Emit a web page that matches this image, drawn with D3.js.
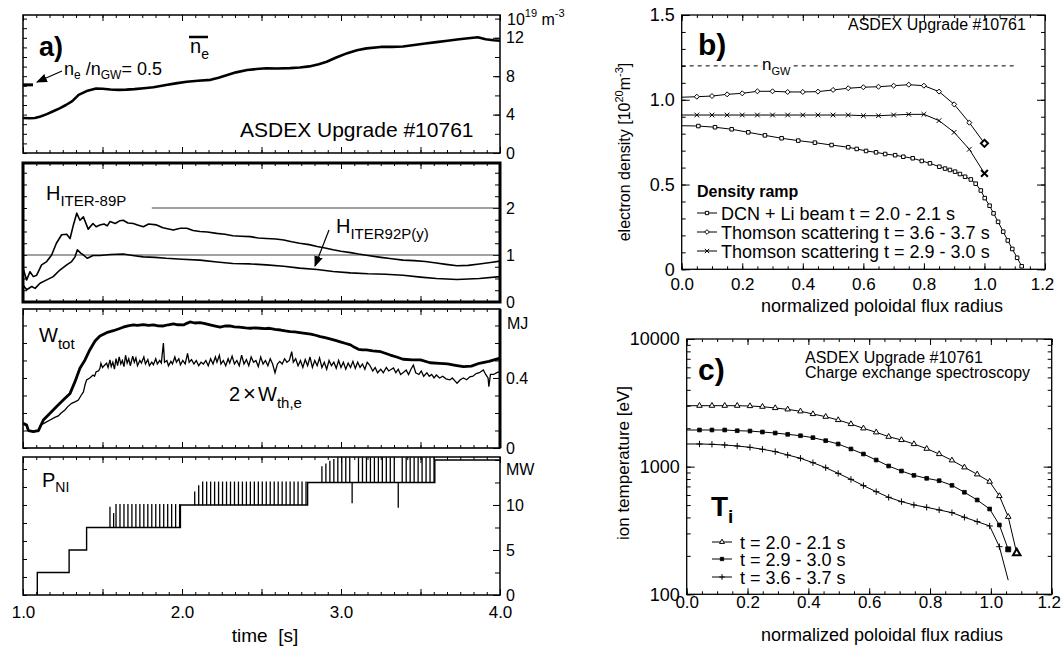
<!DOCTYPE html>
<html>
<head>
<meta charset="utf-8">
<title>ASDEX Upgrade #10761</title>
<script src="https://cdn.jsdelivr.net/npm/d3@7/dist/d3.min.js"></script>
<style>
  html, body { margin: 0; padding: 0; background: #fff; }
  svg { display: block; }
</style>
</head>
<body>
<svg id="fig" width="1061" height="652"></svg>
<script>
// ===================== a) time traces =====================
// line-averaged density [10^19 m^-3]
const neLine = [[1.00,3.65],[1.04,3.62],[1.075,3.65],[1.11,3.8],[1.15,4.05],[1.19,4.35],[1.23,4.65],[1.27,5.0],[1.31,5.4],[1.35,6.05],[1.40,6.45],[1.46,6.72],[1.50,6.7],[1.55,6.62],[1.60,6.58],[1.65,6.6],[1.70,6.65],[1.76,6.74],[1.82,6.85],[1.90,7.08],[1.96,7.25],[2.03,7.43],[2.10,7.52],[2.18,7.62],[2.23,7.85],[2.28,8.1],[2.34,8.4],[2.41,8.65],[2.47,8.75],[2.53,8.82],[2.60,8.8],[2.68,8.84],[2.74,8.9],[2.80,9.02],[2.86,9.25],[2.91,9.5],[2.97,9.95],[3.04,10.4],[3.10,10.7],[3.16,10.9],[3.25,11.05],[3.32,11.05],[3.39,11.1],[3.46,11.25],[3.53,11.4],[3.60,11.55],[3.67,11.7],[3.73,11.82],[3.80,11.95],[3.86,12.05],[3.91,11.85],[3.96,11.75],[4.00,11.7]];
const neRatioMark = 7.1;   // n_e / n_GW = 0.5

// confinement enhancement factors
const hIter89p = [[1.0,0.72],[1.023,0.47],[1.044,0.645],[1.065,0.54],[1.086,0.57],[1.117,0.79],[1.149,0.86],[1.18,1.0],[1.21,1.25],[1.243,1.43],[1.275,1.44],[1.296,1.35],[1.317,1.64],[1.338,1.89],[1.358,1.74],[1.38,1.81],[1.41,1.55],[1.44,1.67],[1.46,1.6],[1.484,1.64],[1.51,1.66],[1.53,1.62],[1.547,1.71],[1.58,1.67],[1.61,1.73],[1.63,1.74],[1.66,1.68],[1.694,1.67],[1.72,1.64],[1.757,1.60],[1.79,1.66],[1.84,1.64],[1.88,1.58],[1.945,1.53],[1.99,1.57],[2.03,1.57],[2.07,1.52],[2.113,1.50],[2.16,1.49],[2.218,1.46],[2.27,1.44],[2.32,1.41],[2.37,1.40],[2.43,1.39],[2.48,1.36],[2.53,1.35],[2.59,1.34],[2.64,1.32],[2.69,1.28],[2.74,1.25],[2.80,1.22],[2.85,1.18],[2.90,1.15],[2.95,1.11],[3.00,1.08],[3.06,1.05],[3.11,1.02],[3.17,0.99],[3.25,0.95],[3.32,0.92],[3.39,0.89],[3.46,0.88],[3.53,0.86],[3.60,0.83],[3.66,0.80],[3.73,0.77],[3.80,0.78],[3.87,0.81],[3.94,0.84],[4.0,0.87]];
const hIter92p = [[1.0,0.36],[1.023,0.26],[1.055,0.33],[1.076,0.29],[1.107,0.40],[1.149,0.47],[1.19,0.54],[1.232,0.68],[1.275,0.79],[1.306,0.86],[1.327,0.96],[1.342,1.11],[1.363,1.04],[1.38,1.0],[1.405,0.93],[1.44,0.99],[1.484,0.99],[1.55,1.01],[1.63,1.02],[1.69,0.99],[1.757,0.96],[1.83,0.95],[1.90,0.93],[2.00,0.91],[2.113,0.89],[2.22,0.85],[2.32,0.82],[2.43,0.81],[2.53,0.79],[2.64,0.76],[2.74,0.72],[2.85,0.69],[2.95,0.65],[3.06,0.62],[3.17,0.60],[3.28,0.59],[3.39,0.57],[3.50,0.53],[3.60,0.50],[3.73,0.48],[3.87,0.50],[4.0,0.54]];
const hRefLines = [[1.0, 1], [1.81, 2]];  // [start time, level]

// stored energy [MJ]
const wTot = [[1.00,0.141],[1.023,0.131],[1.034,0.099],[1.065,0.093],[1.097,0.099],[1.128,0.16],[1.17,0.198],[1.21,0.236],[1.253,0.274],[1.296,0.312],[1.327,0.379],[1.358,0.455],[1.39,0.503],[1.42,0.56],[1.453,0.611],[1.484,0.64],[1.526,0.659],[1.568,0.67],[1.60,0.68],[1.63,0.69],[1.66,0.698],[1.694,0.703],[1.72,0.70],[1.757,0.705],[1.79,0.70],[1.82,0.703],[1.85,0.698],[1.883,0.697],[1.915,0.704],[1.945,0.709],[1.975,0.704],[2.01,0.703],[2.03,0.712],[2.05,0.72],[2.08,0.714],[2.113,0.716],[2.145,0.71],[2.176,0.703],[2.21,0.696],[2.24,0.69],[2.27,0.697],[2.30,0.697],[2.33,0.692],[2.36,0.69],[2.40,0.686],[2.43,0.684],[2.46,0.686],[2.49,0.684],[2.52,0.682],[2.55,0.684],[2.585,0.678],[2.62,0.674],[2.65,0.669],[2.68,0.665],[2.71,0.663],[2.74,0.659],[2.775,0.655],[2.81,0.651],[2.84,0.644],[2.87,0.636],[2.90,0.63],[2.93,0.623],[2.965,0.615],[2.996,0.606],[3.03,0.597],[3.06,0.589],[3.085,0.575],[3.11,0.564],[3.135,0.56],[3.16,0.56],[3.20,0.555],[3.25,0.55],[3.31,0.531],[3.35,0.52],[3.39,0.507],[3.45,0.503],[3.50,0.503],[3.56,0.487],[3.62,0.483],[3.67,0.48],[3.72,0.472],[3.77,0.465],[3.82,0.468],[3.87,0.484],[3.93,0.495],[4.00,0.513]];
const wTh2 = [[1.00,0.135],[1.02,0.13],[1.035,0.10],[1.06,0.095],[1.08,0.10],[1.095,0.095],[1.11,0.13],[1.14,0.145],[1.17,0.16],[1.20,0.175],[1.222,0.183],[1.24,0.20],[1.264,0.217],[1.28,0.235],[1.306,0.255],[1.33,0.265],[1.348,0.274],[1.365,0.30],[1.38,0.32],[1.39,0.36],[1.40,0.389],[1.42,0.40],[1.44,0.417],[1.45,0.41],[1.46,0.436],[1.475,0.44],[1.484,0.455],[1.49,0.484],[1.50,0.46],[1.51,0.47],[1.526,0.484],[1.535,0.46],[1.547,0.503],[1.555,0.465],[1.565,0.49],[1.575,0.45],[1.585,0.51],[1.595,0.47],[1.605,0.52],[1.615,0.48],[1.625,0.50],[1.635,0.465],[1.645,0.53],[1.655,0.485],[1.665,0.51],[1.675,0.47],[1.69,0.525],[1.70,0.49],[1.71,0.515],[1.72,0.47],[1.735,0.50],[1.745,0.485],[1.76,0.52],[1.77,0.48],[1.785,0.505],[1.795,0.47],[1.81,0.49],[1.82,0.475],[1.835,0.51],[1.845,0.48],[1.86,0.50],[1.87,0.485],[1.883,0.60],[1.89,0.49],[1.905,0.50],[1.915,0.47],[1.93,0.495],[1.94,0.48],[1.955,0.52],[1.965,0.49],[1.98,0.51],[1.99,0.475],[2.005,0.50],[2.02,0.48],[2.035,0.54],[2.045,0.49],[2.06,0.505],[2.075,0.48],[2.09,0.50],[2.105,0.47],[2.12,0.49],[2.135,0.48],[2.15,0.50],[2.165,0.47],[2.18,0.51],[2.195,0.48],[2.21,0.52],[2.22,0.49],[2.235,0.53],[2.245,0.48],[2.26,0.50],[2.275,0.47],[2.29,0.51],[2.30,0.485],[2.315,0.525],[2.33,0.48],[2.345,0.50],[2.36,0.47],[2.375,0.53],[2.39,0.48],[2.405,0.505],[2.42,0.47],[2.435,0.52],[2.45,0.49],[2.465,0.50],[2.48,0.465],[2.495,0.52],[2.51,0.48],[2.525,0.50],[2.54,0.47],[2.555,0.51],[2.57,0.48],[2.585,0.43],[2.60,0.48],[2.615,0.495],[2.63,0.48],[2.645,0.51],[2.66,0.49],[2.675,0.50],[2.69,0.55],[2.70,0.49],[2.715,0.51],[2.73,0.47],[2.745,0.50],[2.76,0.46],[2.775,0.505],[2.79,0.47],[2.805,0.52],[2.82,0.46],[2.835,0.50],[2.85,0.47],[2.865,0.515],[2.88,0.46],[2.895,0.49],[2.91,0.45],[2.925,0.50],[2.94,0.47],[2.955,0.49],[2.97,0.455],[2.985,0.50],[3.00,0.46],[3.015,0.49],[3.03,0.45],[3.045,0.485],[3.06,0.46],[3.075,0.495],[3.09,0.455],[3.105,0.49],[3.12,0.46],[3.135,0.48],[3.15,0.45],[3.165,0.49],[3.18,0.474],[3.20,0.44],[3.215,0.46],[3.23,0.43],[3.25,0.45],[3.266,0.43],[3.285,0.46],[3.30,0.44],[3.33,0.457],[3.345,0.43],[3.36,0.45],[3.375,0.42],[3.39,0.43],[3.41,0.445],[3.425,0.42],[3.44,0.45],[3.455,0.474],[3.47,0.43],[3.49,0.42],[3.505,0.44],[3.52,0.41],[3.54,0.43],[3.555,0.41],[3.57,0.42],[3.585,0.40],[3.60,0.417],[3.62,0.40],[3.64,0.41],[3.66,0.395],[3.685,0.389],[3.70,0.40],[3.715,0.385],[3.73,0.37],[3.75,0.39],[3.77,0.40],[3.79,0.39],[3.81,0.407],[3.83,0.41],[3.85,0.425],[3.87,0.43],[3.895,0.446],[3.91,0.42],[3.925,0.40],[3.93,0.35],[3.94,0.42],[3.96,0.42],[3.98,0.43],[4.0,0.436]];

// neutral beam power [MW]: step levels plus modulation pulses
const pniSteps = [[1.09,0],[1.09,2.5],[1.29,2.5],[1.29,5.0],[1.40,5.0],[1.40,7.5],[1.99,7.5],[1.99,10.0],[2.79,10.0],[2.79,12.5],[3.59,12.5],[3.59,15.0],[4.0,15.0]];
const pniPulsesA = [[1.547,9.8],[1.57,9.1],[1.585,10.1],[1.61,10.1],[1.635,10.1],[1.66,10.1],[1.685,10.1],[1.71,10.1],[1.735,10.1],[1.76,10.1],[1.785,10.1],[1.81,10.1],[1.835,10.1],[1.86,10.1],[1.885,10.1],[1.91,10.1],[1.935,10.1],[1.96,10.1],[1.985,10.1]];
const pniPulsesB = [[2.08,11.5],[2.105,12.2],[2.13,12.6],[2.155,12.6],[2.18,12.6],[2.205,12.6],[2.23,12.6],[2.255,12.6],[2.28,12.6],[2.305,12.6],[2.33,12.6],[2.355,12.6],[2.38,12.6],[2.405,12.6],[2.43,12.6],[2.455,12.6],[2.48,12.6],[2.505,12.6],[2.53,12.6],[2.555,12.6],[2.58,12.6],[2.605,12.6],[2.63,12.6],[2.655,12.6],[2.68,12.6],[2.705,12.6],[2.73,12.6],[2.755,12.6],[2.78,12.6]];
const pniPulsesC = [[2.88,14.3],[2.905,14.6],[2.93,14.9],[2.955,15.1],[2.98,15.3],[3.005,15.3],[3.03,15.3],[3.055,15.3],[3.11,15.3],[3.135,15.3],[3.16,15.3],[3.185,15.3],[3.21,15.3],[3.235,15.3],[3.26,15.3],[3.285,15.3],[3.31,15.3],[3.335,15.3],[3.385,15.3],[3.41,15.3],[3.435,15.3],[3.46,15.3],[3.485,15.3],[3.51,15.3],[3.535,15.3],[3.56,15.3],[3.585,15.3]];
const pniDips = [[3.07,10.2],[3.36,9.7]];

// ===================== b) electron density profiles =====================
const dcnLiBeam = [[0,0.847],[0.055,0.845],[0.11,0.838],[0.165,0.826],[0.22,0.808],[0.275,0.79],[0.33,0.773],[0.385,0.759],[0.44,0.747],[0.495,0.733],[0.55,0.72],[0.578,0.71],[0.609,0.698],[0.642,0.69],[0.672,0.68],[0.705,0.673],[0.732,0.664],[0.763,0.655],[0.793,0.639],[0.82,0.625],[0.851,0.605],[0.87,0.594],[0.886,0.586],[0.903,0.576],[0.919,0.562],[0.936,0.546],[0.955,0.53],[0.971,0.505],[0.988,0.465],[1.001,0.42],[1.017,0.375],[1.03,0.33],[1.045,0.28],[1.062,0.222],[1.077,0.17],[1.092,0.12],[1.108,0.068],[1.123,0.018]];
const thomson36 = [[0,1.015],[0.05,1.018],[0.10,1.022],[0.15,1.032],[0.20,1.038],[0.25,1.05],[0.30,1.05],[0.35,1.046],[0.40,1.046],[0.45,1.048],[0.50,1.058],[0.55,1.068],[0.60,1.074],[0.65,1.077],[0.70,1.083],[0.75,1.089],[0.80,1.083],[0.85,1.048],[0.90,0.973],[0.95,0.865],[1.00,0.743]];
const thomson29 = [[0,0.91],[0.05,0.91],[0.10,0.91],[0.15,0.91],[0.20,0.91],[0.25,0.91],[0.30,0.91],[0.35,0.91],[0.40,0.91],[0.45,0.91],[0.50,0.91],[0.55,0.91],[0.60,0.906],[0.65,0.906],[0.70,0.91],[0.75,0.914],[0.80,0.914],[0.85,0.877],[0.90,0.808],[0.95,0.708],[1.00,0.566]];
const nGreenwald = 1.2;
const densityLegend = ["DCN + Li beam t = 2.0 - 2.1 s", "Thomson scattering t = 3.6 - 3.7 s", "Thomson scattering t = 2.9 - 3.0 s"];

// ===================== c) ion temperature profiles =====================
const rhoCx = [0,0.042,0.083,0.125,0.166,0.208,0.249,0.291,0.332,0.374,0.415,0.457,0.498,0.540,0.581,0.623,0.664,0.706,0.747,0.789,0.830,0.872,0.913,0.955,0.996,1.028,1.057,1.085];
const ti20 = [3003,3003,3003,3003,3003,2985,2950,2880,2812,2714,2585,2462,2320,2158,1996,1858,1717,1618,1504,1383,1256,1121,988,871,763,589,405,210];
const ti29 = [1937,1937,1937,1937,1912,1901,1868,1834,1791,1747,1687,1598,1505,1375,1256,1127,1012,924,855,810,776,714,630,548,466,349,225];
const ti36 = [1505,1505,1496,1478,1451,1417,1368,1311,1234,1163,1074,981,886,795,710,637,575,532,501,480,458,436,401,371,343,236,129];
const tiLegend = ["t = 2.0 - 2.1 s", "t = 2.9 - 3.0 s", "t = 3.6 - 3.7 s"];

// ===================================================================
const FONT = "'Liberation Sans', Arial, Helvetica, sans-serif";
const svg = d3.select("#fig").attr("font-family", FONT);
const defs = svg.append("defs");
defs.append("marker").attr("id", "arrow").attr("viewBox", "0 0 10 10")
  .attr("refX", 9).attr("refY", 5).attr("markerWidth", 11).attr("markerHeight", 11)
  .attr("markerUnits", "userSpaceOnUse").attr("orient", "auto")
  .append("path").attr("d", "M0,1 L10,5 L0,9 Z").attr("fill", "#000");

function styleAxis(g, size) {
  g.select(".domain").remove();
  g.attr("font-family", null).attr("font-size", null);
  g.selectAll(".tick line").attr("stroke", "#000").attr("stroke-width", 1);
  g.selectAll(".tick text").attr("fill", "#000").attr("font-size", size || 16);
}

function richText(parent, x, y, parts, attrs) {
  const t = parent.append("text").attr("x", x).attr("y", y).attr("fill", "#000");
  if (attrs) for (const k in attrs) t.attr(k, attrs[k]);
  let shift = 0;
  for (const p of parts) {
    const s = t.append("tspan").text(p.t);
    if (p.size) s.attr("font-size", p.size);
    if (p.weight) s.attr("font-weight", p.weight);
    if (p.x !== undefined) s.attr("x", p.x);
    const want = p.dy || 0;
    s.attr("dy", want - shift);
    shift = want;
  }
  return t;
}

// ---------- a) stacked time panels ----------
const xT = d3.scaleLinear().domain([1.0, 4.0]).range([23, 500]);
const tMinor = d3.range(0, 37).map(i => 1 + i / 12);
const tMajor = d3.range(0, 7).map(i => 1 + i * 0.5);

function timePanel(o) {
  const y = d3.scaleLinear().domain([0, o.max]).range([o.bottom, o.top]);
  const g = svg.append("g");
  const clipId = "clip-" + o.name;
  defs.append("clipPath").attr("id", clipId).append("rect")
    .attr("x", xT(1)).attr("y", o.top).attr("width", xT(4) - xT(1)).attr("height", o.bottom - o.top);
  for (const [axis, yy] of [[d3.axisTop, o.top], [d3.axisBottom, o.bottom]]) {
    g.append("g").attr("transform", `translate(0,${yy})`)
      .call(axis(xT).tickValues(tMinor).tickSize(-3).tickFormat("")).call(styleAxis);
    g.append("g").attr("transform", `translate(0,${yy})`)
      .call(axis(xT).tickValues(tMajor).tickSize(-6).tickFormat("")).call(styleAxis);
  }
  g.append("g").attr("transform", `translate(${xT(1)},0)`)
    .call(d3.axisLeft(y).tickValues(o.leftTicks).tickSize(-4).tickFormat("")).call(styleAxis);
  g.append("g").attr("transform", `translate(${xT(4)},0)`)
    .call(d3.axisRight(y).tickValues(o.rightTicks).tickSize(-5).tickFormat("")).call(styleAxis);
  g.append("g").attr("transform", `translate(${xT(4)},0)`)
    .call(d3.axisRight(y).tickValues(o.labels).tickSize(-7).tickPadding(6).tickFormat(d3.format(""))).call(styleAxis);
  const plot = g.append("g").attr("clip-path", `url(#${clipId})`);
  g.append("rect").attr("x", xT(1)).attr("y", o.top).attr("width", xT(4) - xT(1)).attr("height", o.bottom - o.top)
    .attr("fill", "none").attr("stroke", "#000").attr("stroke-width", o.border);
  return { y, g, plot };
}

const stepRange = (a, b, s) => d3.range(Math.round((b - a) / s) + 1).map(i => a + i * s);

// density
const pNe = timePanel({ name: "ne", top: 15, bottom: 153, max: 14.375, border: 1.5,
  leftTicks: stepRange(0, 14, 1), rightTicks: stepRange(0, 14, 2), labels: [0, 4, 8, 12] });
pNe.plot.append("path").datum(neLine)
  .attr("d", d3.line().x(d => xT(d[0])).y(d => pNe.y(d[1])))
  .attr("fill", "none").attr("stroke", "#000").attr("stroke-width", 2.6).attr("stroke-linejoin", "round");
pNe.g.append("line").attr("x1", xT(1)).attr("x2", xT(1) + 10)
  .attr("y1", pNe.y(neRatioMark)).attr("y2", pNe.y(neRatioMark)).attr("stroke", "#000").attr("stroke-width", 3);

// H factors
const pH = timePanel({ name: "h", top: 163, bottom: 302, max: 2.957, border: 3,
  leftTicks: stepRange(0, 2.75, 0.25), rightTicks: stepRange(0, 2.75, 0.25), labels: [0, 1, 2] });
pH.plot.selectAll("line.ref").data(hRefLines).join("line")
  .attr("x1", d => xT(d[0])).attr("x2", xT(4)).attr("y1", d => pH.y(d[1])).attr("y2", d => pH.y(d[1]))
  .attr("stroke", "#444").attr("stroke-width", 1.2);
for (const s of [hIter89p, hIter92p]) {
  pH.plot.append("path").datum(s)
    .attr("d", d3.line().x(d => xT(d[0])).y(d => pH.y(d[1])))
    .attr("fill", "none").attr("stroke", "#000").attr("stroke-width", 1.6).attr("stroke-linejoin", "round");
}

// stored energy
const pW = timePanel({ name: "w", top: 309, bottom: 448, max: 0.794, border: 1.6,
  leftTicks: stepRange(0, 0.7, 0.1), rightTicks: stepRange(0, 0.7, 0.1), labels: [0, 0.4] });
pW.g.append("line").attr("x1", xT(4)).attr("x2", xT(4)).attr("y1", 309).attr("y2", 448)
  .attr("stroke", "#000").attr("stroke-width", 3);
pW.plot.append("path").datum(wTot)
  .attr("d", d3.line().x(d => xT(d[0])).y(d => pW.y(d[1])))
  .attr("fill", "none").attr("stroke", "#000").attr("stroke-width", 2.8).attr("stroke-linejoin", "round");
pW.plot.append("path").datum(wTh2)
  .attr("d", d3.line().x(d => xT(d[0])).y(d => pW.y(d[1])))
  .attr("fill", "none").attr("stroke", "#000").attr("stroke-width", 1.3);

// beam power
const pP = timePanel({ name: "p", top: 457, bottom: 595, max: 15.33, border: 1.5,
  leftTicks: stepRange(0, 14, 2), rightTicks: stepRange(0, 15, 2.5), labels: [0, 5, 10] });
pP.plot.append("path").datum(pniSteps)
  .attr("d", d3.line().x(d => xT(d[0])).y(d => pP.y(d[1])))
  .attr("fill", "none").attr("stroke", "#000").attr("stroke-width", 1.4);
for (const [pulses, base] of [[pniPulsesA, 7.5], [pniPulsesB, 10], [pniPulsesC, 12.5], [pniDips, 12.5]]) {
  pP.plot.append("g").selectAll("line").data(pulses).join("line")
    .attr("x1", d => xT(d[0])).attr("x2", d => xT(d[0]))
    .attr("y1", pP.y(base)).attr("y2", d => pP.y(d[1]))
    .attr("stroke", "#000").attr("stroke-width", 1.3);
}

// time axis labels
svg.append("g").attr("transform", `translate(0,595)`)
  .call(d3.axisBottom(xT).tickValues([1, 2, 3, 4]).tickSize(0).tickPadding(11).tickFormat(d3.format(".1f")))
  .call(g => styleAxis(g, 17));
svg.append("text").attr("x", 265).attr("y", 642).attr("text-anchor", "middle")
  .attr("font-size", 19).attr("fill", "#000").style("white-space", "pre").text("time  [s]");

// units on the right-hand axes
richText(svg, 507, 25, [{ t: "10", size: 16 }, { t: "19", size: 11, dy: -8 }, { t: " m", size: 16, dy: 0 }, { t: "-3", size: 11, dy: -8 }]);
svg.append("text").attr("x", 507).attr("y", 329).attr("font-size", 16).text("MJ");
svg.append("text").attr("x", 506).attr("y", 475).attr("font-size", 16).text("MW");

// panel a annotations
svg.append("text").attr("x", 39).attr("y", 56).attr("font-size", 27).attr("font-weight", "bold").text("a)");
richText(svg, 190, 53, [{ t: "n", size: 20 }, { t: "e", size: 14, dy: 6 }]);
svg.append("line").attr("x1", 189).attr("x2", 208).attr("y1", 37).attr("y2", 37).attr("stroke", "#000").attr("stroke-width", 2.5);
richText(svg, 64, 75, [{ t: "n", size: 18 }, { t: "e", size: 12, dy: 4 }, { t: " /n", size: 18, dy: 0 }, { t: "GW", size: 12, dy: 4 }, { t: "= 0.5", size: 18, dy: 0 }]);
svg.append("line").attr("x1", 62).attr("y1", 71).attr("x2", 37).attr("y2", 82)
  .attr("stroke", "#000").attr("stroke-width", 1.2).attr("marker-end", "url(#arrow)");
svg.append("text").attr("x", 240).attr("y", 137).attr("font-size", 21).text("ASDEX Upgrade #10761");

richText(svg, 46, 200, [{ t: "H", size: 20 }, { t: "ITER-89P", size: 15, dy: 6 }]);
richText(svg, 336, 233, [{ t: "H", size: 20 }, { t: "ITER92P(y)", size: 15, dy: 6 }]);
svg.append("line").attr("x1", 329).attr("y1", 230).attr("x2", 315).attr("y2", 266)
  .attr("stroke", "#000").attr("stroke-width", 1.2).attr("marker-end", "url(#arrow)");

richText(svg, 39, 342, [{ t: "W", size: 20 }, { t: "tot", size: 15, dy: 7 }]);
richText(svg, 229, 401, [{ t: "2", size: 20 }, { t: "\u00d7", size: 22, x: 243 }, { t: "W", size: 20, x: 258 }, { t: "th,e", size: 15, dy: 7 }]);
richText(svg, 42, 487, [{ t: "P", size: 20 }, { t: "NI", size: 14, dy: 5 }]);

// ---------- shared helpers for profile panels ----------
function profileFrame(x, y, o) {
  const g = svg.append("g");
  const [x0, x1] = x.range(), [y0, y1] = y.range();
  for (const [axis, yy] of [[d3.axisTop, y1], [d3.axisBottom, y0]]) {
    g.append("g").attr("transform", `translate(0,${yy})`)
      .call(axis(x).tickValues(stepRange(0, 1.2, 0.05)).tickSize(-3).tickFormat("")).call(styleAxis);
    g.append("g").attr("transform", `translate(0,${yy})`)
      .call(axis(x).tickValues(stepRange(0, 1.2, 0.2)).tickSize(-6).tickFormat("")).call(styleAxis);
  }
  for (const [axis, xx] of [[d3.axisLeft, x0], [d3.axisRight, x1]]) {
    g.append("g").attr("transform", `translate(${xx},0)`)
      .call(axis(y).tickValues(o.minorY).tickSize(-4).tickFormat("")).call(styleAxis);
    g.append("g").attr("transform", `translate(${xx},0)`)
      .call(axis(y).tickValues(o.majorY).tickSize(-8).tickFormat("")).call(styleAxis);
  }
  g.append("g").attr("transform", `translate(${x0},0)`)
    .call(d3.axisLeft(y).tickValues(o.majorY).tickSize(0).tickPadding(7).tickFormat(o.yFormat))
    .call(a => styleAxis(a, 18));
  const xl = g.append("g").attr("transform", `translate(0,${y0})`)
    .call(d3.axisBottom(x).tickValues(stepRange(0, 1.2, 0.2)).tickSize(0).tickPadding(o.xPad).tickFormat(d3.format(".1f")))
    .call(a => styleAxis(a, 17));
  // keep the outermost label inside the figure
  xl.selectAll(".tick text").filter(d => d > 1.19).attr("dx", -3);
  g.append("rect").attr("x", x0).attr("y", y1).attr("width", x1 - x0).attr("height", y0 - y1)
    .attr("fill", "none").attr("stroke", "#000").attr("stroke-width", 1.3);
  return g;
}

function drawMarker(g, type, cx, cy, size, bold) {
  const sym = {
    square: d3.symbolSquare2, diamond: d3.symbolDiamond2, x: d3.symbolX,
    triangle: d3.symbolTriangle2, plus: d3.symbolPlus, solidsq: d3.symbolSquare
  }[type];
  const p = g.append("path").attr("d", d3.symbol(sym, size)()).attr("transform", `translate(${cx},${cy})`);
  if (type === "solidsq") p.attr("fill", "#000").attr("stroke", "#000").attr("stroke-width", 0.8);
  else p.attr("fill", type === "plus" || type === "x" ? "none" : "#fff").attr("stroke", "#000").attr("stroke-width", bold ? 2 : 1);
  return p;
}

// ---------- b) electron density ----------
const xB = d3.scaleLinear().domain([0, 1.2]).range([681.7, 1045]);
const yB = d3.scaleLinear().domain([0, 1.5]).range([269.3, 15]);
profileFrame(xB, yB, { minorY: stepRange(0, 1.5, 0.1), majorY: [0, 0.5, 1.0, 1.5],
  yFormat: d => d === 0 ? "0" : d3.format(".1f")(d), xPad: 9 });
const gB = svg.append("g");
const nGwPieces = [[0, 0.265], [0.37, 1.1]];
gB.selectAll("line.ngw").data(nGwPieces).join("line")
  .attr("x1", d => xB(d[0])).attr("x2", d => xB(d[1]))
  .attr("y1", yB(nGreenwald)).attr("y2", yB(nGreenwald))
  .attr("stroke", "#000").attr("stroke-width", 1).attr("stroke-dasharray", "4,4");
richText(gB, 762, 70, [{ t: "n", size: 17 }, { t: "GW", size: 11, dy: 5 }]);
const lineB = d3.line().x(d => xB(d[0])).y(d => yB(d[1]));
const bSeries = [[dcnLiBeam, "square", 16], [thomson36, "diamond", 16], [thomson29, "x", 16]];
for (const [data, type, size] of bSeries) {
  gB.append("path").datum(data).attr("d", lineB).attr("fill", "none").attr("stroke", "#000").attr("stroke-width", 1);
  data.forEach((d, i) => {
    if (d[0] === 0) return;
    const last = i === data.length - 1 && type !== "square";
    drawMarker(gB, type, xB(d[0]), yB(d[1]), last ? size * 2 : size, last);
  });
}
svg.append("text").attr("x", 698).attr("y", 55).attr("font-size", 30).attr("font-weight", "bold").text("b)");
svg.append("text").attr("x", 848).attr("y", 30).attr("font-size", 16).text("ASDEX Upgrade #10761");
svg.append("text").attr("x", 697).attr("y", 197).attr("font-size", 16).attr("font-weight", "bold").text("Density ramp");
const bLegY = [213, 232, 251];
densityLegend.forEach((label, i) => {
  const yy = bLegY[i];
  gB.append("line").attr("x1", 697).attr("x2", 717).attr("y1", yy).attr("y2", yy).attr("stroke", "#000");
  drawMarker(gB, bSeries[i][1], 707, yy, 14, false);
  gB.append("text").attr("x", 721).attr("y", yy + 6.5).attr("font-size", 18).text(label);
});
svg.append("text").attr("transform", "translate(630,152) rotate(-90)").attr("text-anchor", "middle")
  .call(t => {
    t.append("tspan").attr("font-size", 16).text("electron density [10");
    t.append("tspan").attr("font-size", 11).attr("dy", -7).text("20");
    t.append("tspan").attr("font-size", 16).attr("dy", 7).text("m");
    t.append("tspan").attr("font-size", 11).attr("dy", -7).text("-3");
    t.append("tspan").attr("font-size", 16).attr("dy", 7).text("]");
  });
svg.append("text").attr("x", 882).attr("y", 312).attr("text-anchor", "middle").attr("font-size", 18)
  .text("normalized poloidal flux radius");

// ---------- c) ion temperature ----------
const xC = d3.scaleLinear().domain([0, 1.2]).range([686.7, 1051.7]);
const yC = d3.scaleLog().domain([100, 10000]).range([594.3, 339]);
profileFrame(xC, yC, { minorY: yC.ticks(), majorY: [100, 1000, 10000], yFormat: d3.format("d"), xPad: 2 });
const gC = svg.append("g");
const lineC = d3.line().x(d => xC(d[0])).y(d => yC(d[1]));
const cSeries = [[ti20, "triangle", 22], [ti29, "solidsq", 14], [ti36, "plus", 15]];
for (const [vals, type, size] of cSeries) {
  const pts = vals.map((v, i) => [rhoCx[i], v]);
  gC.append("path").datum(pts).attr("d", lineC).attr("fill", "none").attr("stroke", "#000").attr("stroke-width", 1);
  pts.forEach((d, i) => {
    if (i === 0) return;
    if (type === "plus" && i === pts.length - 1) return;
    const last = i === pts.length - 1;
    drawMarker(gC, type, xC(d[0]), yC(d[1]), last ? size * 1.8 : size, last && type === "triangle");
  });
}
svg.append("text").attr("x", 698).attr("y", 380).attr("font-size", 30).attr("font-weight", "bold").text("c)");
svg.append("text").attr("x", 805).attr("y", 363).attr("font-size", 16).text("ASDEX Upgrade #10761");
svg.append("text").attr("x", 805).attr("y", 378).attr("font-size", 16).text("Charge exchange spectroscopy");
richText(svg, 711, 516, [{ t: "T", size: 28, weight: "bold" }, { t: "i", size: 19, weight: "bold", dy: 7 }]);
const cLegY = [542, 559, 577];
tiLegend.forEach((label, i) => {
  const yy = cLegY[i];
  gC.append("line").attr("x1", 712).attr("x2", 732).attr("y1", yy).attr("y2", yy).attr("stroke", "#000");
  drawMarker(gC, cSeries[i][1], 722, yy, cSeries[i][2] * 0.8, false);
  gC.append("text").attr("x", 740).attr("y", yy + 6.5).attr("font-size", 18).text(label);
});
svg.append("text").attr("transform", "translate(629,463) rotate(-90)").attr("text-anchor", "middle")
  .attr("font-size", 17).text("ion temperature [eV]");
svg.append("text").attr("x", 882).attr("y", 641).attr("text-anchor", "middle").attr("font-size", 18)
  .text("normalized poloidal flux radius");
</script>
</body>
</html>
